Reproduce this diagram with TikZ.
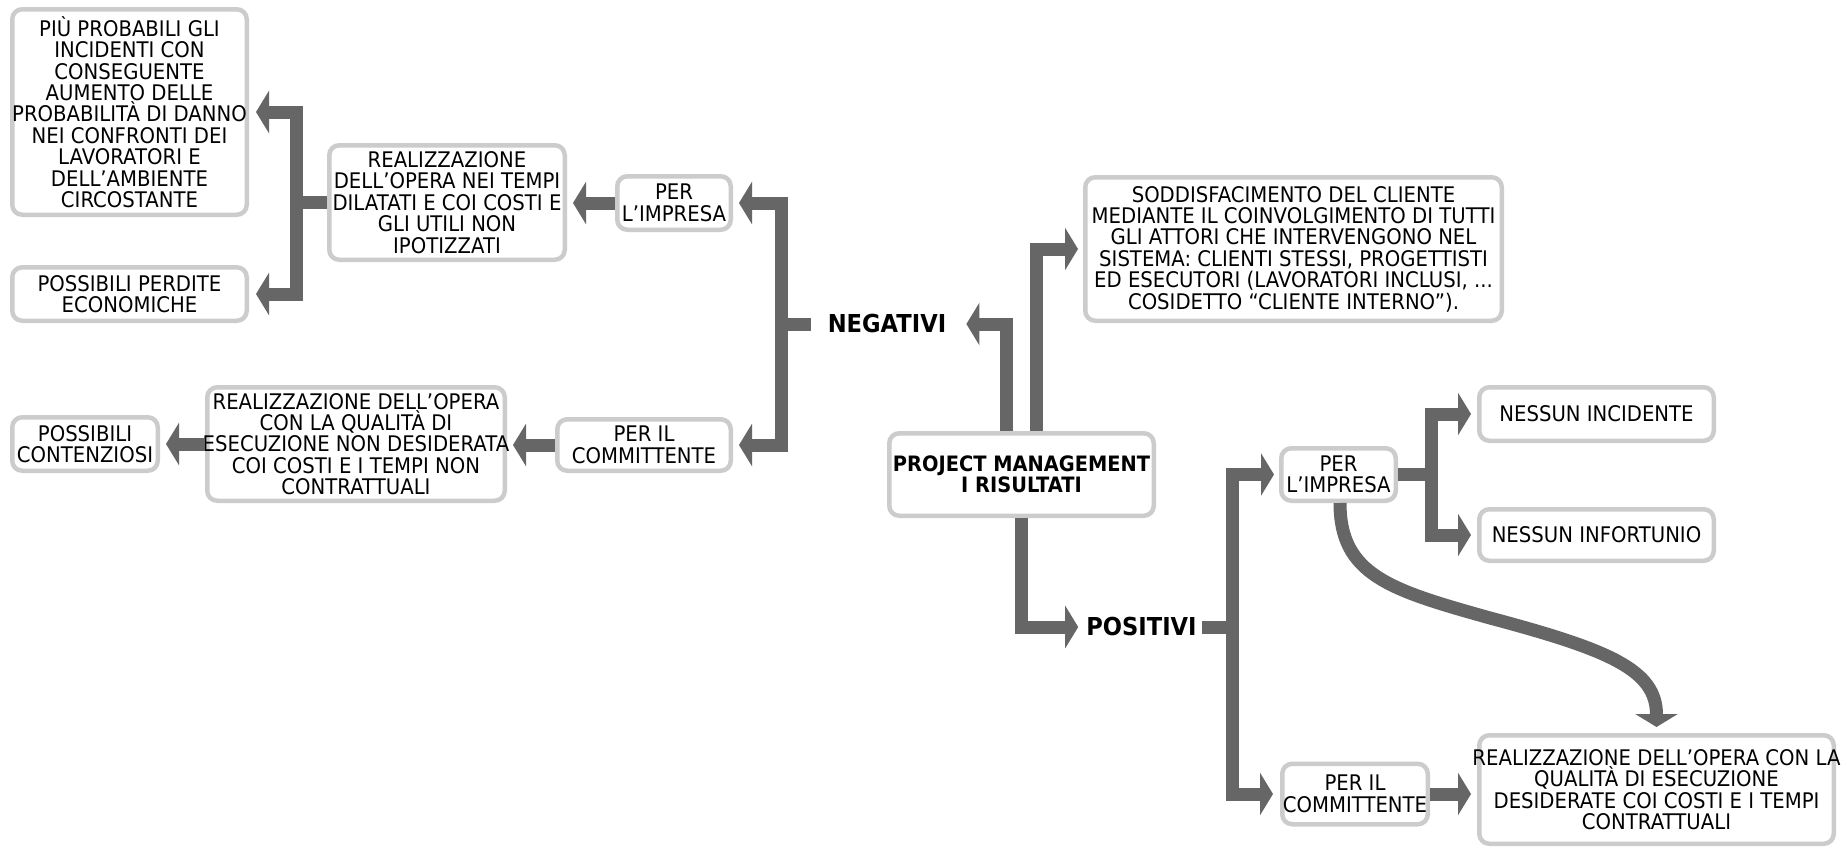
\documentclass[tikz,border=0pt]{standalone}
\usepackage{fontspec}
\setmainfont{DejaVu Sans}[FakeStretch=0.915]
\usetikzlibrary{arrows.meta}
\definecolor{boxline}{HTML}{CCCCCC}
\definecolor{linkgray}{HTML}{666666}
\tikzset{
  box/.style={draw=boxline, line width=4.5pt, rounded corners=10pt, fill=white, inner sep=0pt},
  boxtext/.style={inner sep=0pt, align=center, font=\fontsize{21.5}{21.4}\selectfont},
  headtext/.style={inner sep=0pt, align=center, font=\bfseries\fontsize{24.7}{25}\selectfont},
  titletext/.style={inner sep=0pt, align=center, font=\bfseries\fontsize{21.2}{20.5}\selectfont},
  link/.style={draw=linkgray, line width=13pt, line join=miter,
    -{Triangle[length=13pt 0 0, width=42pt 0 0]}}
}
\begin{document}
\begin{tikzpicture}[x=1pt, y=-1pt]
\fill[white] (0,0) rectangle (1848,849);
\useasboundingbox (0,0) rectangle (1848,849);

% ---- negative outcomes (left half)
\node[box, minimum width=234.5pt, minimum height=205.5pt] (A) at (129.5,112) {};
\node[boxtext] (At) at (A) {PIÙ PROBABILI GLI\\INCIDENTI CON\\CONSEGUENTE\\AUMENTO DELLE\\PROBABILITÀ DI DANNO\\NEI CONFRONTI DEI\\LAVORATORI E\\DELL’AMBIENTE\\CIRCOSTANTE};
\node[box, minimum width=234.5pt, minimum height=53.5pt] (B) at (129.5,294) {};
\node[boxtext] (Bt) at (B) {POSSIBILI PERDITE\\ECONOMICHE};
\node[box, minimum width=235.5pt, minimum height=114.5pt] (C) at (447,202.5) {};
\node[boxtext] (Ct) at (C) {REALIZZAZIONE\\DELL’OPERA NEI TEMPI\\DILATATI E COI COSTI E\\GLI UTILI NON\\IPOTIZZATI};
\node[box, minimum width=113.5pt, minimum height=53.5pt] (D) at (674,203) {};
\node[boxtext] (Dt) at (D) {PER\\L’IMPRESA};
\node[box, minimum width=173.5pt, minimum height=51.5pt] (E) at (644,445) {};
\node[boxtext] (Et) at (E) {PER IL\\COMMITTENTE};
\node[box, minimum width=297.5pt, minimum height=113.5pt] (F) at (356,444) {};
\node[boxtext] (Ft) at (F) {REALIZZAZIONE DELL’OPERA\\CON LA QUALITÀ DI\\ESECUZIONE NON DESIDERATA\\COI COSTI E I TEMPI NON\\CONTRATTUALI};
\node[box, minimum width=145.5pt, minimum height=53.5pt] (G) at (85,444) {};
\node[boxtext] (Gt) at (G) {POSSIBILI\\CONTENZIOSI};
\node[headtext] (NEG) at (887,324) {NEGATIVI};

% ---- root and client satisfaction
\node[box, minimum width=264.5pt, minimum height=82.5pt] (PM) at (1021.5,474.5) {};
\node[titletext] (PMt) at (PM) {PROJECT MANAGEMENT\\I RISULTATI};
\node[box, minimum width=416.5pt, minimum height=143.5pt] (H) at (1293.5,249) {};
\node[boxtext] (Ht) at (H) {SODDISFACIMENTO DEL CLIENTE\\MEDIANTE IL COINVOLGIMENTO DI TUTTI\\GLI ATTORI CHE INTERVENGONO NEL\\SISTEMA: CLIENTI STESSI, PROGETTISTI\\ED ESECUTORI (LAVORATORI INCLUSI, ...\\COSIDETTO “CLIENTE INTERNO”).};

% ---- positive outcomes (right half)
\node[headtext] (POS) at (1141.5,627) {POSITIVI};
\node[box, minimum width=114.5pt, minimum height=52.5pt] (I) at (1338.5,474.5) {};
\node[boxtext] (It) at (I) {PER\\L’IMPRESA};
\node[box, minimum width=234.5pt, minimum height=53.5pt] (J) at (1596.5,414) {};
\node[boxtext] (Jt) at (J) {NESSUN INCIDENTE};
\node[box, minimum width=234.5pt, minimum height=51.5pt] (K) at (1596.5,535) {};
\node[boxtext] (Kt) at (K) {NESSUN INFORTUNIO};
\node[box, minimum width=145.5pt, minimum height=60.5pt] (L) at (1355,794) {};
\node[boxtext] (Lt) at (L) {PER IL\\COMMITTENTE};
\node[box, minimum width=354.5pt, minimum height=108.5pt] (M) at (1656.5,789.5) {};
\node[boxtext] (Mt) at (M) {REALIZZAZIONE DELL’OPERA CON LA\\QUALITÀ DI ESECUZIONE\\DESIDERATE COI COSTI E I TEMPI\\CONTRATTUALI};

% ---- connectors
\draw[link, shorten >=7pt] (C.west) -- ++(-30.5,0) |- (A.east);
\draw[link, shorten >=7pt] (C.west) -- ++(-30.5,0) |- (B.east);
\draw[link, shorten >=6pt] (D.west) -- (D.west -| C.east);
\draw[link, shorten >=6pt] ([xshift=-17pt]NEG.west) -- ++(-29.5,0) |- (D.east);
\draw[link, shorten >=6pt] ([xshift=-17pt]NEG.west) -- ++(-29.5,0) |- (E.east);
\draw[link, shorten >=6pt] (E.west) -- (E.west -| F.east);
\draw[link, shorten >=6pt] (F.west) -- (F.west -| G.east);

\draw[link, shorten >=20pt] ([xshift=-15pt]PM.north) |- (NEG.east);
\draw[link, shorten >=5pt] ([xshift=15pt]PM.north) |- (H.west);
\draw[link, shorten >=8pt] (PM.south) |- (POS.west);

\draw[link, shorten >=5pt] ([xshift=5pt]POS.east) -- ++(31,0) |- (I.west);
\draw[link, shorten >=7pt] ([xshift=5pt]POS.east) -- ++(31,0) |- (L.west);
\draw[link, shorten >=6pt] (I.east) -- ++(33,0) |- (J.west);
\draw[link, shorten >=6pt] (I.east) -- ++(33,0) |- (K.west);
\draw[link, shorten >=6pt] (L.east) -- (L.east -| M.west);
\draw[link, shorten >=6pt] ([xshift=1.5pt]I.south) .. controls +(0,72) and (1390,590) .. (1490,618)
      .. controls (1610,650) and (1656.5,670) .. (M.north);
\end{tikzpicture}
\end{document}
